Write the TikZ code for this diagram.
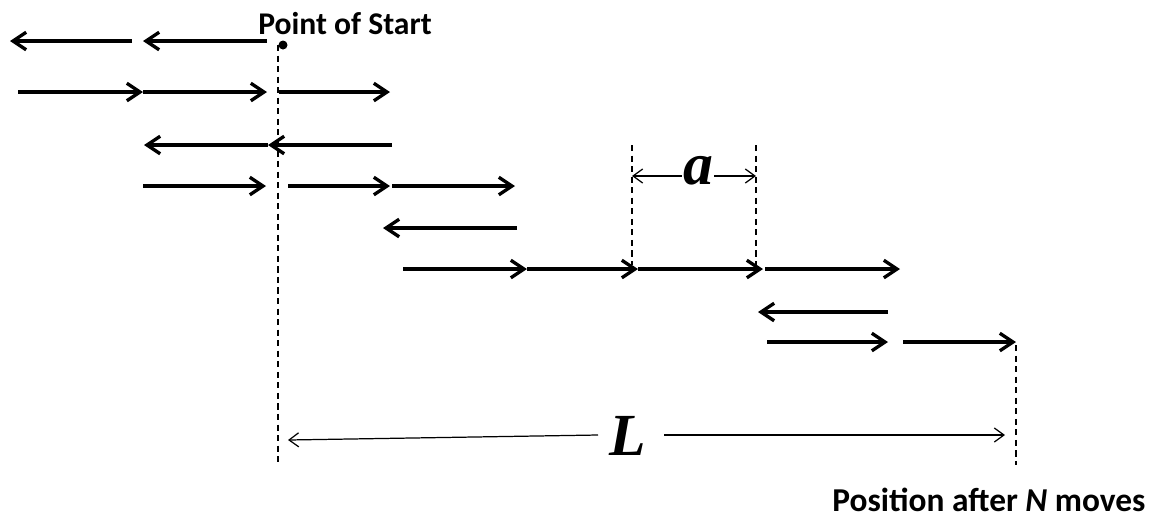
\documentclass[tikz,border=0pt]{standalone}
\usepackage{fontspec}
\setmainfont{Carlito}
\newfontfamily\dimfont{Liberation Serif}
\usetikzlibrary{arrows.meta}
\begin{document}
\begin{tikzpicture}[x=0.02cm,y=-0.02cm,
  move/.style={line width=1.9pt,line cap=butt,
    -{Straight Barb[length=7.5pt,width=10pt,line width=1.9pt]}},
  guide/.style={line width=0.8pt,dash pattern=on 3.5pt off 2.5pt},
  dimline/.style={line width=0.7pt,-{Straight Barb[length=5.5pt,width=8pt,line width=0.7pt]}},
  caption/.style={font=\bfseries\fontsize{18}{20}\selectfont,inner sep=0pt},
  dimlabel/.style={font=\dimfont\bfseries\itshape\fontsize{34}{36}\selectfont,inner sep=0pt}]
\useasboundingbox (0,0) rectangle (1160,529);

% end points of every single move
\foreach \n/\x/\y in {
  a0/267/41, a1/143/41, a2/10/41,
  b0/18/92, b1/143/92, b2/267/92, b3/279/92, b4/390/92,
  c0/392/145, c1/268/145, c2/144/145,
  d0/143/186, d1/266/186, d2/288/186, d3/390/186, d4/392/186, d5/515/186,
  e0/517/228, e1/383/228,
  f0/403/269, f1/527/269, f2/638/269, f3/763/269, f4/765/269, f5/900/269,
  g0/888/312, g1/758/312,
  h0/767/342, h1/888/342, h2/903/342, h3/1016/342}
  \coordinate (\n) at (\x,\y);

% the walk, row by row
\draw[move] (a0) -- (a1);
\draw[move] (a1) ++(-11,0) -- (a2);
\draw[move] (b0) -- (b1);
\draw[move] (b1) -- (b2);
\draw[move] (b3) -- (b4);
\draw[move] (c0) -- (c1);
\draw[move] (c1) -- (c2);
\draw[move] (d0) -- (d1);
\draw[move] (d2) -- (d3);
\draw[move] (d4) -- (d5);
\draw[move] (e0) -- (e1);
\draw[move] (f0) -- (f1);
\draw[move] (f1) -- (f2);
\draw[move] (f2) -- (f3);
\draw[move] (f4) -- (f5);
\draw[move] (g0) -- (g1);
\draw[move] (h0) -- (h1);
\draw[move] (h2) -- (h3);

% starting point and its label
\coordinate (origin) at (278,45);
\fill (283,45) circle (4.5);
\node[caption] (start) at (345,24) {Point of Start};

% guide lines
\coordinate (originbot) at (278,465);
\coordinate (endtop) at (1016,345);
\coordinate (endbot) at (1016,465);
\draw[guide] (origin) -- (originbot);
\draw[guide] (endtop) -- (endbot);

\coordinate (sa) at (632,145);
\coordinate (sa2) at (632,265);
\coordinate (sb) at (756,145);
\coordinate (sb2) at (756,265);
\draw[guide] (sa) -- (sa2);
\draw[guide] (sb) -- (sb2);

% step length a
\node[dimlabel] (alab) at (698,171) {a};
\coordinate (al) at (632,176);
\coordinate (ar) at (756,176);
\draw[dimline] (alab.west |- al) ++(-1,0) -- (al);
\draw[dimline] (alab.east |- ar) ++(1,0) -- (ar);

% net displacement L
\node[dimlabel] (llab) at (628,436) {L};
\coordinate (ll) at (288,440);
\coordinate (lr) at (1005,435);
\draw[dimline] (598,435) -- (ll);
\draw[dimline] (664,435) -- (lr);

\node[caption] (endlab) at (989,500) {\fontsize{19}{21}\selectfont Position after \textit{N} moves};
\end{tikzpicture}
\end{document}
